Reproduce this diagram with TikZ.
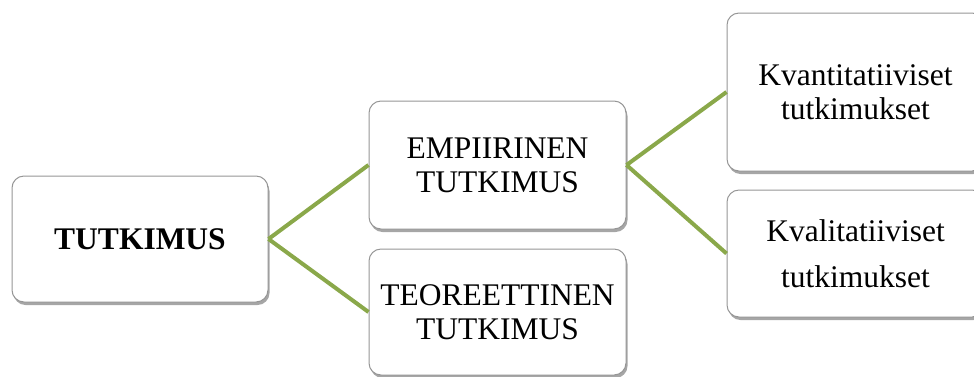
\documentclass[tikz,border=0pt]{standalone}
\usepackage{fontspec}
\setmainfont{Liberation Serif}
\usetikzlibrary{positioning, shadows}

\definecolor{lineGreen}{RGB}{138,168,74}
\definecolor{boxGray}{RGB}{150,150,150}

\begin{document}
\begin{tikzpicture}[
    x=1pt,
    y=-1pt,
    box/.style={rectangle, rounded corners=12pt, draw=boxGray, line width=1pt,
        fill=white, align=center, inner sep=0pt,
        drop shadow={shadow xshift=1.5pt, shadow yshift=-3pt, opacity=0.35, fill=black},
        font=\fontsize{31.5}{34}\selectfont},
    link/.style={draw=lineGreen, line width=4pt}
]
\useasboundingbox (0,0) rectangle (974,376);

%---------------- Root ----------------
\node[box, minimum width=256pt, minimum height=126pt,
      font=\fontsize{31.5}{34}\selectfont\bfseries] (tut) at (140,239) {TUTKIMUS};

%---------------- Level 1 ----------------
\node[box, minimum width=257pt, minimum height=128pt] (emp) at (497.5,165) {EMPIIRINEN\\TUTKIMUS};
\node[box, minimum width=257pt, minimum height=126pt] (teo) at (497.5,312) {TEOREETTINEN\\TUTKIMUS};

%---------------- Level 2 ----------------
\node[box, minimum width=257pt, minimum height=158pt] (kvan) at (855.5,92) {Kvantitatiiviset\\tutkimukset};
\node[box, minimum width=257pt, minimum height=127pt] (kval) at (855.5,253.5) {Kvalitatiiviset\\[12pt]tutkimukset};

%---------------- Connections ----------------
\foreach \to in {emp, teo} {
    \draw[link] (tut.east) -- (\to.west);
}
\foreach \to in {kvan, kval} {
    \draw[link] (emp.east) -- (\to.west);
}
\end{tikzpicture}
\end{document}
